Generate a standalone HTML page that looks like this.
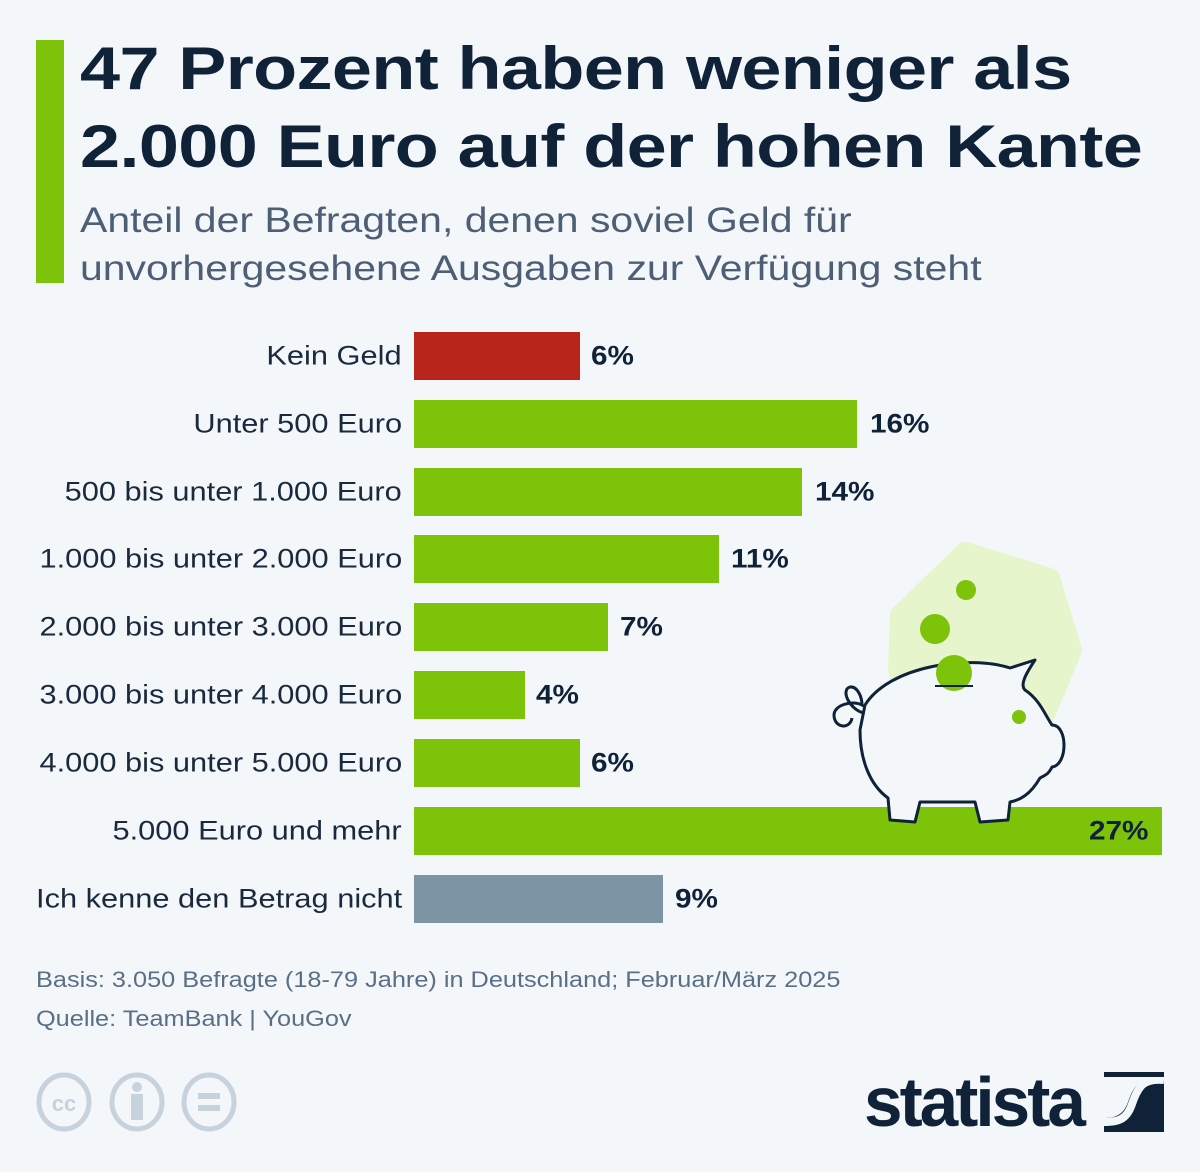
<!DOCTYPE html>
<html><head><meta charset="utf-8"><style>
body{margin:0;background:#f3f7fa;}
.w{position:relative;width:1200px;height:1172px;background:#f3f7fa;font-family:"Liberation Sans",sans-serif;overflow:hidden}
.gb{position:absolute;left:36px;top:40px;width:28px;height:243px;background:#7dc30a}
.t{position:absolute;left:80px;top:30px;font-size:60px;font-weight:bold;color:#0f2238;line-height:78px;letter-spacing:-0.5px;transform:scaleX(1.2);transform-origin:left top;white-space:nowrap}
.s{position:absolute;left:80px;top:197px;font-size:35px;color:#4e5f75;line-height:48px;transform:scaleX(1.17);transform-origin:left top;white-space:nowrap}
.l{position:absolute;right:798px;font-size:27px;color:#1a2a3c;white-space:nowrap;transform:translateY(-50%) scaleX(1.14);transform-origin:right center}
.b{position:absolute;left:414px;height:48px}
.v{position:absolute;font-size:27px;font-weight:bold;color:#0f2238;transform:translateY(-50%) scaleX(1.1);transform-origin:left center}
.f{position:absolute;left:36px;font-size:22px;color:#5a6f86;transform:scaleX(1.15);transform-origin:left top;white-space:nowrap}
</style></head><body><div class="w">
<div class="gb"></div>
<div class="t">47 Prozent haben weniger als<br>2.000 Euro auf der hohen Kante</div>
<div class="s">Anteil der Befragten, denen soviel Geld für<br>unvorhergesehene Ausgaben zur Verfügung steht</div>

<div class="l" style="top:356px">Kein Geld</div>
<div class="l" style="top:424px">Unter 500 Euro</div>
<div class="l" style="top:492px">500 bis unter 1.000 Euro</div>
<div class="l" style="top:559px">1.000 bis unter 2.000 Euro</div>
<div class="l" style="top:627px">2.000 bis unter 3.000 Euro</div>
<div class="l" style="top:695px">3.000 bis unter 4.000 Euro</div>
<div class="l" style="top:763px">4.000 bis unter 5.000 Euro</div>
<div class="l" style="top:831px">5.000 Euro und mehr</div>
<div class="l" style="top:899px">Ich kenne den Betrag nicht</div>

<div class="b" style="top:332px;width:166px;background:#b8261b"></div>
<div class="b" style="top:400px;width:443px;background:#7dc30a"></div>
<div class="b" style="top:468px;width:388px;background:#7dc30a"></div>
<div class="b" style="top:535px;width:305px;background:#7dc30a"></div>
<div class="b" style="top:603px;width:194px;background:#7dc30a"></div>
<div class="b" style="top:671px;width:111px;background:#7dc30a"></div>
<div class="b" style="top:739px;width:166px;background:#7dc30a"></div>
<div class="b" style="top:807px;width:748px;background:#7dc30a"></div>
<div class="b" style="top:875px;width:249px;background:#7b95a4"></div>

<svg style="position:absolute;left:820px;top:530px" width="280" height="300" viewBox="0 0 280 300">
<path d="M145 22 L230 48 L252 120 L225 185 L150 215 L95 200 L78 140 L80 85 Z" fill="#e6f5cc" stroke="#e6f5cc" stroke-width="20" stroke-linejoin="round"/>
<circle cx="146" cy="60" r="10" fill="#7dc30a"/>
<circle cx="115" cy="99" r="15" fill="#7dc30a"/>
<path d="M45 175 C70 135 150 125 190 138 L215 130 C205 145 200 155 205 160 C220 170 225 185 232 195 C248 195 248 235 232 237 C228 245 225 245 220 248 C210 265 200 270 190 272 L188 290 L160 292 L155 272 L100 272 L95 292 L70 290 L68 268 C50 255 40 230 40 200 Z" fill="#f3f7fa" stroke="#0f2238" stroke-width="3" stroke-linejoin="round"/>
<circle cx="134" cy="143" r="18" fill="#7dc30a"/>
<line x1="115" y1="156" x2="153" y2="156" stroke="#0f2238" stroke-width="2"/>
<circle cx="199" cy="187" r="7" fill="#7dc30a"/>
<path d="M44 183 C30 180 20 160 30 157 C38 156 42 168 42 175 C32 170 14 175 14 185 C14 198 30 200 32 188" fill="none" stroke="#0f2238" stroke-width="3"/>
</svg>

<div class="v" style="top:356px;left:591px">6%</div>
<div class="v" style="top:424px;left:870px">16%</div>
<div class="v" style="top:492px;left:815px">14%</div>
<div class="v" style="top:559px;left:731px">11%</div>
<div class="v" style="top:627px;left:620px">7%</div>
<div class="v" style="top:695px;left:536px">4%</div>
<div class="v" style="top:763px;left:591px">6%</div>
<div class="v" style="top:831px;left:1089px">27%</div>
<div class="v" style="top:899px;left:675px">9%</div>

<div class="f" style="top:967px">Basis: 3.050 Befragte (18-79 Jahre) in Deutschland; Februar/März 2025</div>
<div class="f" style="top:1006px">Quelle: TeamBank | YouGov</div>

<svg style="position:absolute;left:34px;top:1072px" width="210" height="62">
<g fill="none" stroke="#c7d3dc" stroke-width="5"><ellipse cx="30" cy="30" rx="25" ry="27"/><ellipse cx="103" cy="30" rx="25" ry="27"/><ellipse cx="175" cy="30" rx="25" ry="27"/></g>
<text x="30" y="39" text-anchor="middle" font-family="Liberation Sans" font-weight="bold" font-size="22" fill="#c7d3dc">cc</text>
<circle cx="103" cy="15" r="5" fill="#c7d3dc"/><rect x="97" y="22" width="12" height="26" fill="#c7d3dc"/>
<rect x="164" y="21" width="22" height="6" fill="#c7d3dc"/><rect x="164" y="33" width="22" height="6" fill="#c7d3dc"/>
</svg>
<div style="position:absolute;left:864px;top:1062px;font-size:70px;font-weight:bold;color:#0f2238;letter-spacing:-3px;transform:scaleX(0.99);transform-origin:left">statista</div>
<svg style="position:absolute;left:1104px;top:1072px" width="60" height="60" viewBox="0 0 60 60">
<rect width="60" height="60" fill="#0f2238"/>
<path d="M60 8 C40 6 34 14 28 32 C23 47 15 50 0 50" fill="none" stroke="#f3f7fa" stroke-width="8"/>
<path d="M0 0 H60 V4 C38 4 30 12 24 30 C20 42 12 46 0 46 Z" fill="#f3f7fa"/>
<rect width="60" height="5" fill="#0f2238"/>
<path d="M0 5 H40 C30 8 26 16 22 28 C18 40 10 42 0 42 Z" fill="#f3f7fa"/>
</svg>
</div></body></html>
